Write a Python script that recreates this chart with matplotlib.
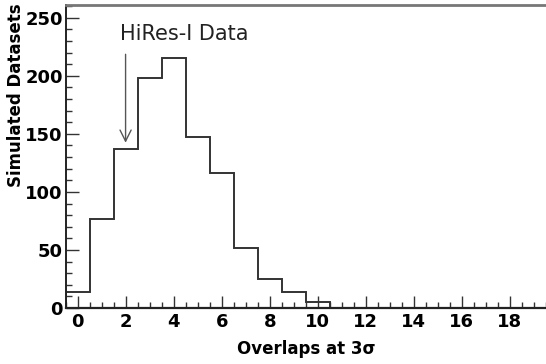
import numpy as np
import matplotlib
matplotlib.use('Agg')
import matplotlib.pyplot as plt
from matplotlib.ticker import MultipleLocator

# overlap counts per simulated dataset, one bin per integer
overlaps = [0, 1, 2, 3, 4, 5, 6, 7, 8, 9, 10]
n_datasets = [14, 77, 137, 198, 215, 147, 116, 52, 25, 14, 5]
hires_overlaps = 2

plt.rcParams['font.family'] = ['DejaVu Sans']

fig = plt.figure(figsize=(5.46, 3.64), dpi=100)
ax = fig.add_axes([0.120, 0.154, 0.880, 0.832])

edges = np.append(np.array(overlaps) - 0.5, overlaps[-1] + 0.5)
ax.stairs(n_datasets, edges, color='#333333', linewidth=1.4, baseline=0)

ax.set_xlim(-0.5, 19.5)
ax.set_ylim(0, 261)

ax.xaxis.set_major_locator(MultipleLocator(2))
ax.xaxis.set_minor_locator(MultipleLocator(0.5))
ax.yaxis.set_major_locator(MultipleLocator(50))
ax.yaxis.set_minor_locator(MultipleLocator(10))
ax.tick_params(which='both', direction='in', top=False, right=False,
               color='#333333', width=1.0)
ax.tick_params(which='major', length=9, labelsize=13)
ax.tick_params(which='minor', length=4.5)
ax.tick_params(axis='y', which='major', pad=2)
ax.tick_params(axis='x', which='major', pad=4)
for lab in ax.get_xticklabels() + ax.get_yticklabels():
    lab.set_fontweight('bold')

ax.spines['right'].set_visible(False)
ax.spines['top'].set_color('#777777')
ax.spines['top'].set_linewidth(2.0)
ax.spines['left'].set_color('#222222')
ax.spines['bottom'].set_color('#222222')
ax.spines['left'].set_linewidth(1.4)
ax.spines['bottom'].set_linewidth(1.6)

ax.set_xlabel('Overlaps at 3σ', fontsize=12, fontweight='bold')
ax.xaxis.set_label_coords(0.5, -0.135)
ax.xaxis.label.set_va('center')
ax.set_ylabel('Simulated Datasets', fontsize=12, fontweight='bold', loc='top')
ax.yaxis.set_label_coords(-0.084, 1.005)

# marker for the observed HiRes-I value
ax.annotate('', xy=(hires_overlaps, n_datasets[hires_overlaps] + 3),
            xytext=(hires_overlaps, 221),
            arrowprops=dict(arrowstyle='->', color='#555555', lw=1.0,
                            mutation_scale=20))
ax.text(1.78, 236, 'HiRes-I Data', fontsize=15, ha='left', va='center',
        color='#222222')

fig.savefig('out.png', dpi=100)
